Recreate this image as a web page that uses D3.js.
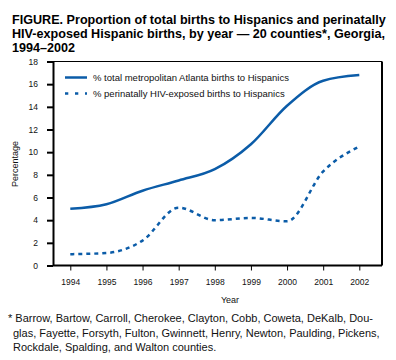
<!DOCTYPE html>
<html><head><meta charset="utf-8">
<script src="https://cdn.jsdelivr.net/npm/d3@7"></script>
<style>
body{margin:0;background:#fff;}
svg{display:block;font-family:"Liberation Sans",Arial,sans-serif;}
</style></head>
<body><svg id="c" width="396" height="360"></svg>
<script>
const years = [1994,1995,1996,1997,1998,1999,2000,2001,2002];
const totalHispanic = [5.0,5.4,6.6,7.5,8.5,10.7,14.1,16.3,16.8];
const hivHispanic = [1.0,1.1,2.2,5.1,4.0,4.2,3.9,8.3,10.5];
const yTicks = [0,2,4,6,8,10,12,14,16,18];
const seriesNames = ["% total metropolitan Atlanta births to Hispanics","% perinatally HIV-exposed births to Hispanics"];
const titleLines = ["FIGURE. Proportion of total births to Hispanics and perinatally","HIV-exposed Hispanic births, by year \u2014 20 counties*, Georgia,","1994\u20132002"];
const footLines = ["* Barrow, Bartow, Carroll, Cherokee, Clayton, Cobb, Coweta, DeKalb, Dou-","glas, Fayette, Forsyth, Fulton, Gwinnett, Henry, Newton, Paulding, Pickens,","Rockdale, Spalding, and Walton counties."];

const svg = d3.select("#c");
const color = "#0b5ca8";
const L=53, R=382, T=61.5, B=265.5;
const x = d3.scalePoint().domain(years).range([70.3,359.3]);
const y = d3.scaleLinear().domain([0,18]).range([B,T]);

// title
svg.append("g").selectAll("text").data(titleLines).join("text")
  .attr("x",12).attr("y",(d,i)=>24+i*14).attr("font-size",12.6).attr("font-weight","bold").attr("fill","#000").text(d=>d);

// frame top/right
svg.append("line").attr("x1",L).attr("x2",R).attr("y1",T).attr("y2",T).attr("stroke","#000").attr("stroke-width",1);
svg.append("line").attr("x1",R).attr("x2",R).attr("y1",T).attr("y2",B).attr("stroke","#000").attr("stroke-width",2);

// y axis
const ya = svg.append("g").attr("transform",`translate(${L},0)`)
  .call(d3.axisLeft(y).tickValues(yTicks).tickSize(6).tickPadding(9).tickSizeOuter(0));
ya.select(".domain").attr("stroke","#000").attr("stroke-width",2);
ya.selectAll(".tick line").attr("stroke-width",2);
ya.selectAll("text").attr("font-size",8.5).attr("font-family","Liberation Sans,Arial,sans-serif").attr("fill","#111");

// x axis
const xa = svg.append("g").attr("transform",`translate(0,${B})`)
  .call(d3.axisBottom(x).tickSize(5).tickPadding(8).tickSizeOuter(0));
xa.select(".domain").attr("d",`M${L},0H${R}`).attr("stroke","#000").attr("stroke-width",2);
xa.selectAll(".tick line").attr("stroke-width",1);
xa.selectAll("text").attr("font-size",8.5).attr("font-family","Liberation Sans,Arial,sans-serif").attr("fill","#111");

// axis titles
svg.append("text").attr("transform","translate(18,164) rotate(-90)").attr("text-anchor","middle")
  .attr("font-size",9).attr("fill","#111").text("Percentage");
svg.append("text").attr("x",230).attr("y",303).attr("text-anchor","middle")
  .attr("font-size",9).attr("fill","#111").text("Year");

// lines
const line = d3.line().x((d,i)=>x(years[i])).y(d=>y(d)).curve(d3.curveMonotoneX);
svg.append("path").datum(totalHispanic).attr("d",line).attr("fill","none").attr("stroke",color).attr("stroke-width",2.5);
svg.append("path").datum(hivHispanic).attr("d",line).attr("fill","none").attr("stroke",color).attr("stroke-width",2.5).attr("stroke-dasharray","4,4");

// legend
const lg = svg.append("g");
lg.append("line").attr("x1",65).attr("x2",87).attr("y1",77.5).attr("y2",77.5).attr("stroke",color).attr("stroke-width",2.5);
lg.append("line").attr("x1",65).attr("x2",87).attr("y1",93.5).attr("y2",93.5).attr("stroke",color).attr("stroke-width",2.5).attr("stroke-dasharray","3.3,6.7");
lg.selectAll("text").data(seriesNames).join("text").attr("x",93).attr("y",(d,i)=>81+i*16)
  .attr("font-size",9.5).attr("fill","#111").text(d=>d);

// footnote
svg.append("g").selectAll("text").data(footLines).join("text")
  .attr("x",(d,i)=>i===0?8:13).attr("y",(d,i)=>322+i*14.5).attr("font-size",11).attr("fill","#111").text(d=>d);
</script></body></html>
